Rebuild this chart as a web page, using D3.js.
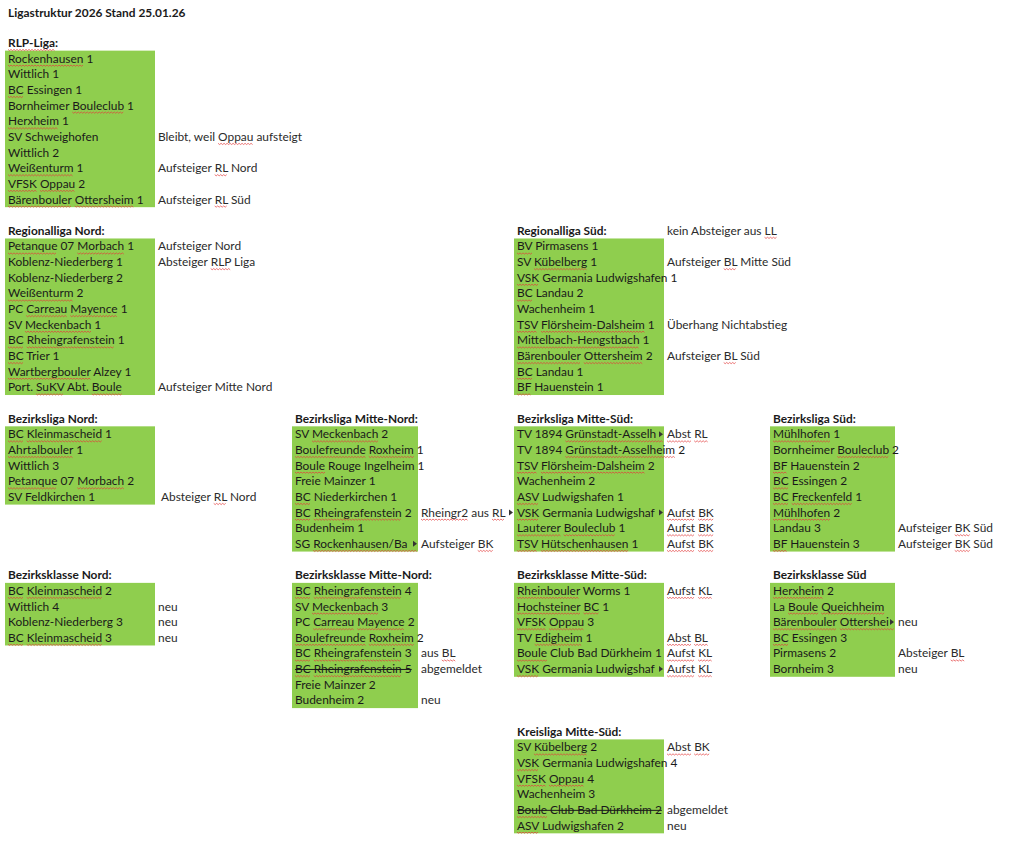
<!DOCTYPE html>
<html>
<head>
<meta charset="utf-8">
<script src="https://cdn.jsdelivr.net/npm/d3@7"></script>
<style>
  body { margin: 0; background: #fff; }
</style>
</head>
<body>
<div id="sheet"></div>
<script>
const pageTitle = 'Ligastruktur 2026 Stand 25.01.26';

// league names (header cells)
const leagueNames = [
  'RLP-Liga:', 'Regionalliga Nord:', 'Regionalliga Süd:',
  'Bezirksliga Nord:', 'Bezirksliga Mitte-Nord:', 'Bezirksliga Mitte-Süd:', 'Bezirksliga Süd:',
  'Bezirksklasse Nord:', 'Bezirksklasse Mitte-Nord:', 'Bezirksklasse Mitte-Süd:', 'Bezirksklasse Süd',
  'Kreisliga Mitte-Süd:'
];
// note next to a header
const headerNotes = ['', '', 'kein Absteiger aus LL', '', '', '', '', '', '', '', '', ''];

const rlpLiga = ['Rockenhausen 1', 'Wittlich 1', 'BC Essingen 1', 'Bornheimer Bouleclub 1', 'Herxheim 1',
  'SV Schweighofen', 'Wittlich 2', 'Weißenturm 1', 'VFSK Oppau 2', 'Bärenbouler Ottersheim 1'];
const rlpLigaNotes = ['', '', '', '', '', 'Bleibt, weil Oppau aufsteigt', '', 'Aufsteiger RL Nord', '', 'Aufsteiger RL Süd'];

const rlNord = ['Petanque 07 Morbach 1', 'Koblenz-Niederberg 1', 'Koblenz-Niederberg 2', 'Weißenturm 2',
  'PC Carreau Mayence 1', 'SV Meckenbach 1', 'BC Rheingrafenstein 1', 'BC Trier 1', 'Wartbergbouler Alzey 1',
  'Port. SuKV Abt. Boule'];
const rlNordNotes = ['Aufsteiger Nord', 'Absteiger RLP Liga', '', '', '', '', '', '', '', 'Aufsteiger Mitte Nord'];

const rlSued = ['BV Pirmasens 1', 'SV Kübelberg 1', 'VSK Germania Ludwigshafen 1', 'BC Landau 2', 'Wachenheim 1',
  'TSV Flörsheim-Dalsheim 1', 'Mittelbach-Hengstbach 1', 'Bärenbouler Ottersheim 2', 'BC Landau 1', 'BF Hauenstein 1'];
const rlSuedNotes = ['', 'Aufsteiger BL Mitte Süd', '', '', '', 'Überhang Nichtabstieg', '', 'Aufsteiger BL Süd', '', ''];

const blNord = ['BC Kleinmascheid 1', 'Ahrtalbouler 1', 'Wittlich 3', 'Petanque 07 Morbach 2', 'SV Feldkirchen 1'];
const blNordNotes = ['', '', '', '', '  Absteiger RL Nord'];

const blMitteNord = ['SV Meckenbach 2', 'Boulefreunde Roxheim 1', 'Boule Rouge Ingelheim 1', 'Freie Mainzer 1',
  'BC Niederkirchen 1', 'BC Rheingrafenstein 2', 'Budenheim 1', 'SG Rockenhausen/Bachbach'];
const blMitteNordNotes = ['', '', '', '', '', 'Rheingr2 aus RL Nord', '', 'Aufsteiger BK'];

const blMitteSued = ['TV 1894 Grünstadt-Asselheim 1', 'TV 1894 Grünstadt-Asselheim 2', 'TSV Flörsheim-Dalsheim 2',
  'Wachenheim 2', 'ASV Ludwigshafen 1', 'VSK Germania Ludwigshafen 2', 'Lauterer Bouleclub 1', 'TSV Hütschenhausen 1'];
const blMitteSuedNotes = ['Abst RL', '', '', '', '', 'Aufst BK', 'Aufst BK', 'Aufst BK'];

const blSued = ['Mühlhofen 1', 'Bornheimer Bouleclub 2', 'BF Hauenstein 2', 'BC Essingen 2', 'BC Freckenfeld 1',
  'Mühlhofen 2', 'Landau 3', 'BF Hauenstein 3'];
const blSuedNotes = ['', '', '', '', '', '', 'Aufsteiger BK Süd', 'Aufsteiger BK Süd'];

const bkNord = ['BC Kleinmascheid 2', 'Wittlich 4', 'Koblenz-Niederberg 3', 'BC Kleinmascheid 3'];
const bkNordNotes = ['', 'neu', 'neu', 'neu'];

const bkMitteNord = ['BC Rheingrafenstein 4', 'SV Meckenbach 3', 'PC Carreau Mayence 2', 'Boulefreunde Roxheim 2',
  'BC Rheingrafenstein 3', 'BC Rheingrafenstein 5', 'Freie Mainzer 2', 'Budenheim 2'];
const bkMitteNordNotes = ['', '', '', '', 'aus BL', 'abgemeldet', '', 'neu'];

const bkMitteSued = ['Rheinbouler Worms 1', 'Hochsteiner BC 1', 'VFSK Oppau 3', 'TV Edigheim 1',
  'Boule Club Bad Dürkheim 1', 'VSK Germania Ludwigshafen 3'];
const bkMitteSuedNotes = ['Aufst KL', '', '', 'Abst BL', 'Aufst KL', 'Aufst KL'];

const bkSued = ['Herxheim 2', 'La Boule Queichheim', 'Bärenbouler Ottersheim 3', 'BC Essingen 3', 'Pirmasens 2', 'Bornheim 3'];
const bkSuedNotes = ['', '', 'neu', '', 'Absteiger BL', 'neu'];

const klMitteSued = ['SV Kübelberg 2', 'VSK Germania Ludwigshafen 4', 'VFSK Oppau 4', 'Wachenheim 3',
  'Boule Club Bad Dürkheim 2', 'ASV Ludwigshafen 2'];
const klMitteSuedNotes = ['Abst BK', '', '', '', 'abgemeldet', 'neu'];

// struck-through (withdrawn) teams
const withdrawn = ['BC Rheingrafenstein 5', 'Boule Club Bad Dürkheim 2'];

// words the spell checker flags
const flaggedWords = ['Rockenhausen', 'BC', 'BF', 'BV', 'VSK', 'VFSK', 'TSV', 'ASV', 'Bouleclub', 'Herxheim',
  'Weißenturm', 'Oppau', 'Bärenbouler', 'Ottersheim', 'RL', 'RLP', 'RLP-Liga', 'Petanque', 'Morbach', 'Carreau',
  'Mayence', 'Meckenbach', 'Rheingrafenstein', 'Wartbergbouler', 'SuKV', 'Boule', 'Kübelberg', 'Flörsheim-Dalsheim',
  'Mittelbach-Hengstbach', 'LL', 'BL', 'BK', 'KL', 'Kleinmascheid', 'Ahrtalbouler', 'Boulefreunde', 'Roxheim',
  'Rockenhausen/Bachbach', 'Rheingr2', 'Grünstadt-Asselheim', 'Hütschenhausen', 'Mühlhofen',
  'Freckenfeld', 'Aufst', 'Abst', 'Rheinbouler', 'Hochsteiner', 'Edigheim', 'Queichheim', 'Lauterer'];

const teamLists = [rlpLiga, rlNord, rlSued, blNord, blMitteNord, blMitteSued, blSued,
  bkNord, bkMitteNord, bkMitteSued, bkSued, klMitteSued];
const noteLists = [rlpLigaNotes, rlNordNotes, rlSuedNotes, blNordNotes, blMitteNordNotes, blMitteSuedNotes, blSuedNotes,
  bkNordNotes, bkMitteNordNotes, bkMitteSuedNotes, bkSuedNotes, klMitteSuedNotes];

// sheet placement: [column, header row]
const placement = [[0, 2], [0, 14], [4, 14], [0, 26], [2, 26], [4, 26], [6, 26],
  [0, 36], [2, 36], [4, 36], [6, 36], [4, 46]];

const width = 1024, height = 846;
const colEdges = [5, 155, 292, 418, 514, 664, 770, 895, 1024];
const x = d3.scaleOrdinal().domain(d3.range(colEdges.length)).range(colEdges);
const y = d3.scaleLinear().domain([0, 52]).range([11.5, 825.5]);
const pad = 3;
const font = 'Lato, "Open Sans", sans-serif';

const svg = d3.select('#sheet').append('svg')
  .attr('width', width)
  .attr('height', height)
  .attr('viewBox', [0, 0, width, height])
  .style('font-family', font)
  .style('font-size', '11.9px');

// collect all cells
const cells = [{row: 0, col: 0, text: pageTitle, kind: 'head', dy: 1.5}];
leagueNames.forEach((name, i) => {
  const [col, row] = placement[i];
  cells.push({row, col, text: name, kind: 'head'});
  if (headerNotes[i]) cells.push({row, col: col + 1, text: headerNotes[i], kind: 'note'});
  teamLists[i].forEach((t, j) => {
    cells.push({row: row + 1 + j, col, text: t, kind: 'team'});
    if (noteLists[i][j]) cells.push({row: row + 1 + j, col: col + 1, text: noteLists[i][j].trim(), kind: 'note',
      shift: noteLists[i][j].startsWith(' ') ? 3 : 0});
  });
});
const taken = new Set(cells.map(c => c.row + ',' + c.col));

// green blocks
svg.append('g')
  .selectAll('rect')
  .data(leagueNames.map((_, i) => i))
  .join('rect')
  .attr('x', i => x(placement[i][0]))
  .attr('width', i => x(placement[i][0] + 1) - x(placement[i][0]))
  .attr('y', i => y(placement[i][1] + 0.5))
  .attr('height', i => y(placement[i][1] + teamLists[i].length + 0.5) - y(placement[i][1] + 0.5))
  .attr('fill', '#8fce4e');

const layer = svg.append('g');

cells.forEach(c => {
  const g = layer.append('g');
  const tx = x(c.col) + pad + (c.shift || 0);
  const ty = y(c.row) + (c.dy || 0);
  const text = g.append('text')
    .attr('x', tx)
    .attr('y', ty)
    .attr('dy', '0.35em')
    .attr('fill', c.kind === 'note' ? '#2b2b2b' : '#1a1a1a')
    .attr('font-weight', c.kind === 'head' ? 'bold' : null)
    .text(c.text);
  const node = text.node();
  const w = node.getComputedTextLength();

  // spreadsheet overflow: text runs on until the next filled cell
  let next = c.col + 1;
  while (next < colEdges.length - 1 && !taken.has(c.row + ',' + next)) next++;
  const limit = x(next) - 1;
  const clipped = tx + w > limit;

  // spell-check squiggles
  let idx = 0;
  c.text.split(' ').forEach(word => {
    const clean = word.replace(/:$/, '');
    if (flaggedWords.includes(clean) && c.row > 0) {
      const x0 = tx + (idx > 0 ? node.getSubStringLength(0, idx) : 0);
      const x1 = Math.min(x0 + node.getSubStringLength(idx, clean.length), limit);
      if (x1 > x0) {
        const pts = d3.range(0, Math.floor((x1 - x0) / 1.5) + 1)
          .map(s => [x0 + s * 1.5, ty + 7 + (s % 2 ? 0.8 : -0.4)]);
        g.append('path')
          .attr('d', d3.line()(pts))
          .attr('fill', 'none')
          .attr('stroke', '#e23c3c')
          .attr('stroke-width', 0.7);
      }
    }
    idx += word.length + 1;
  });

  if (withdrawn.includes(c.text)) {
    g.append('line')
      .attr('x1', tx).attr('x2', Math.min(tx + w, limit))
      .attr('y1', ty + 0.5).attr('y2', ty + 0.5)
      .attr('stroke', '#1a1a1a').attr('stroke-width', 1);
  }

  // cut the text where the neighbouring cell starts, with the overflow marker
  if (clipped) {
    let n = c.text.length;
    while (n > 1 && tx + node.getSubStringLength(0, n) > limit - 4) n--;
    text.text(c.text.slice(0, n));
    g.append('path')
      .attr('d', `M${limit - 4},${ty - 3}L${limit},${ty}L${limit - 4},${ty + 3}Z`)
      .attr('fill', '#333');
  }
});
</script>
</body>
</html>
